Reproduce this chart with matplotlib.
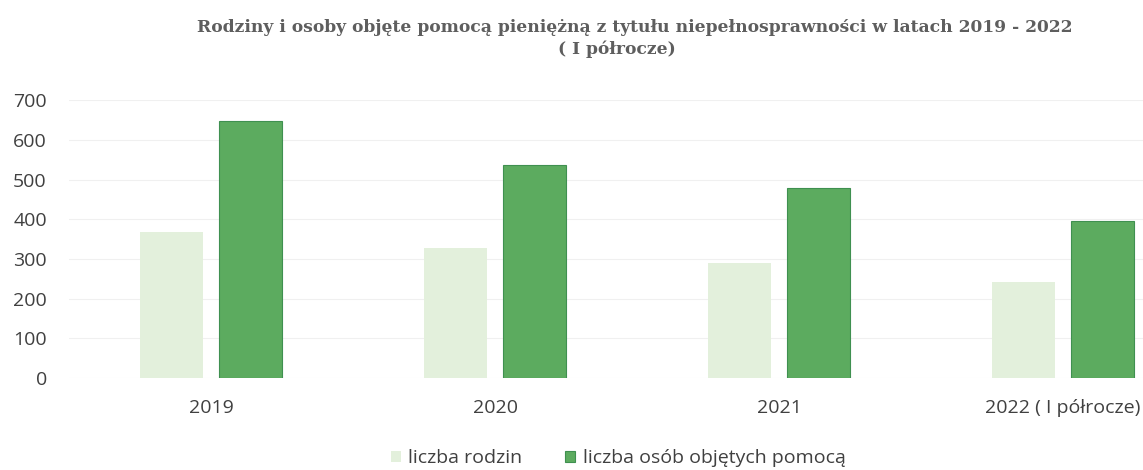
import numpy as np
import matplotlib
matplotlib.use('Agg')
import matplotlib.pyplot as plt

lata = ['2019', '2020', '2021', '2022 ( I półrocze)']
liczba_rodzin = [368, 328, 291, 242]
liczba_osob = [647, 537, 478, 396]

plt.rcParams['font.family'] = ['Open Sans', 'DejaVu Sans']

fig = plt.figure(figsize=(11.43, 4.70), dpi=100)
# wykres jest przyciety z prawej strony, os wychodzi poza obrazek
ax = fig.add_axes([0.0604, 0.1957, 0.994, 0.591])

x = np.arange(len(lata))
w = 0.222
ax.bar(x - 0.139, liczba_rodzin, w, color='#e3f0dc', label='liczba rodzin', zorder=2)
ax.bar(x + 0.139, liczba_osob, w, color='#5cab5f', edgecolor='#3f9050', linewidth=0.8,
       label='liczba osób objętych pomocą', zorder=2)

ax.set_ylim(0, 700)
ax.set_xlim(-0.5, 3.5)
ax.set_yticks(range(0, 701, 100))
ax.set_xticks(x)
ax.set_xticklabels(lata)
ax.yaxis.grid(True, color='#f0f0f0', linewidth=0.8, zorder=0)
for s in ax.spines.values():
    s.set_visible(False)
ax.tick_params(length=0, labelsize=14, colors='#404040')
ax.tick_params(axis='x', pad=15)
ax.tick_params(axis='y', pad=16)

fig.text(0.555, 0.942, 'Rodziny i osoby objęte pomocą pieniężną z tytułu niepełnosprawności w latach 2019 - 2022',
         ha='center', va='center', fontsize=12.3, fontweight='bold', family='DejaVu Serif', color='#5e5e5e')
fig.text(0.54, 0.896, '( I półrocze)', ha='center', va='center', fontsize=12.3, fontweight='bold',
         family='DejaVu Serif', color='#5e5e5e')

fig.legend(loc='center', bbox_to_anchor=(0.541, 0.025), ncol=2, frameon=False, fontsize=14,
           handlelength=0.5, handleheight=0.5, handletextpad=0.4, columnspacing=2.2,
           labelcolor='#404040')

fig.savefig('out.png', dpi=100)
